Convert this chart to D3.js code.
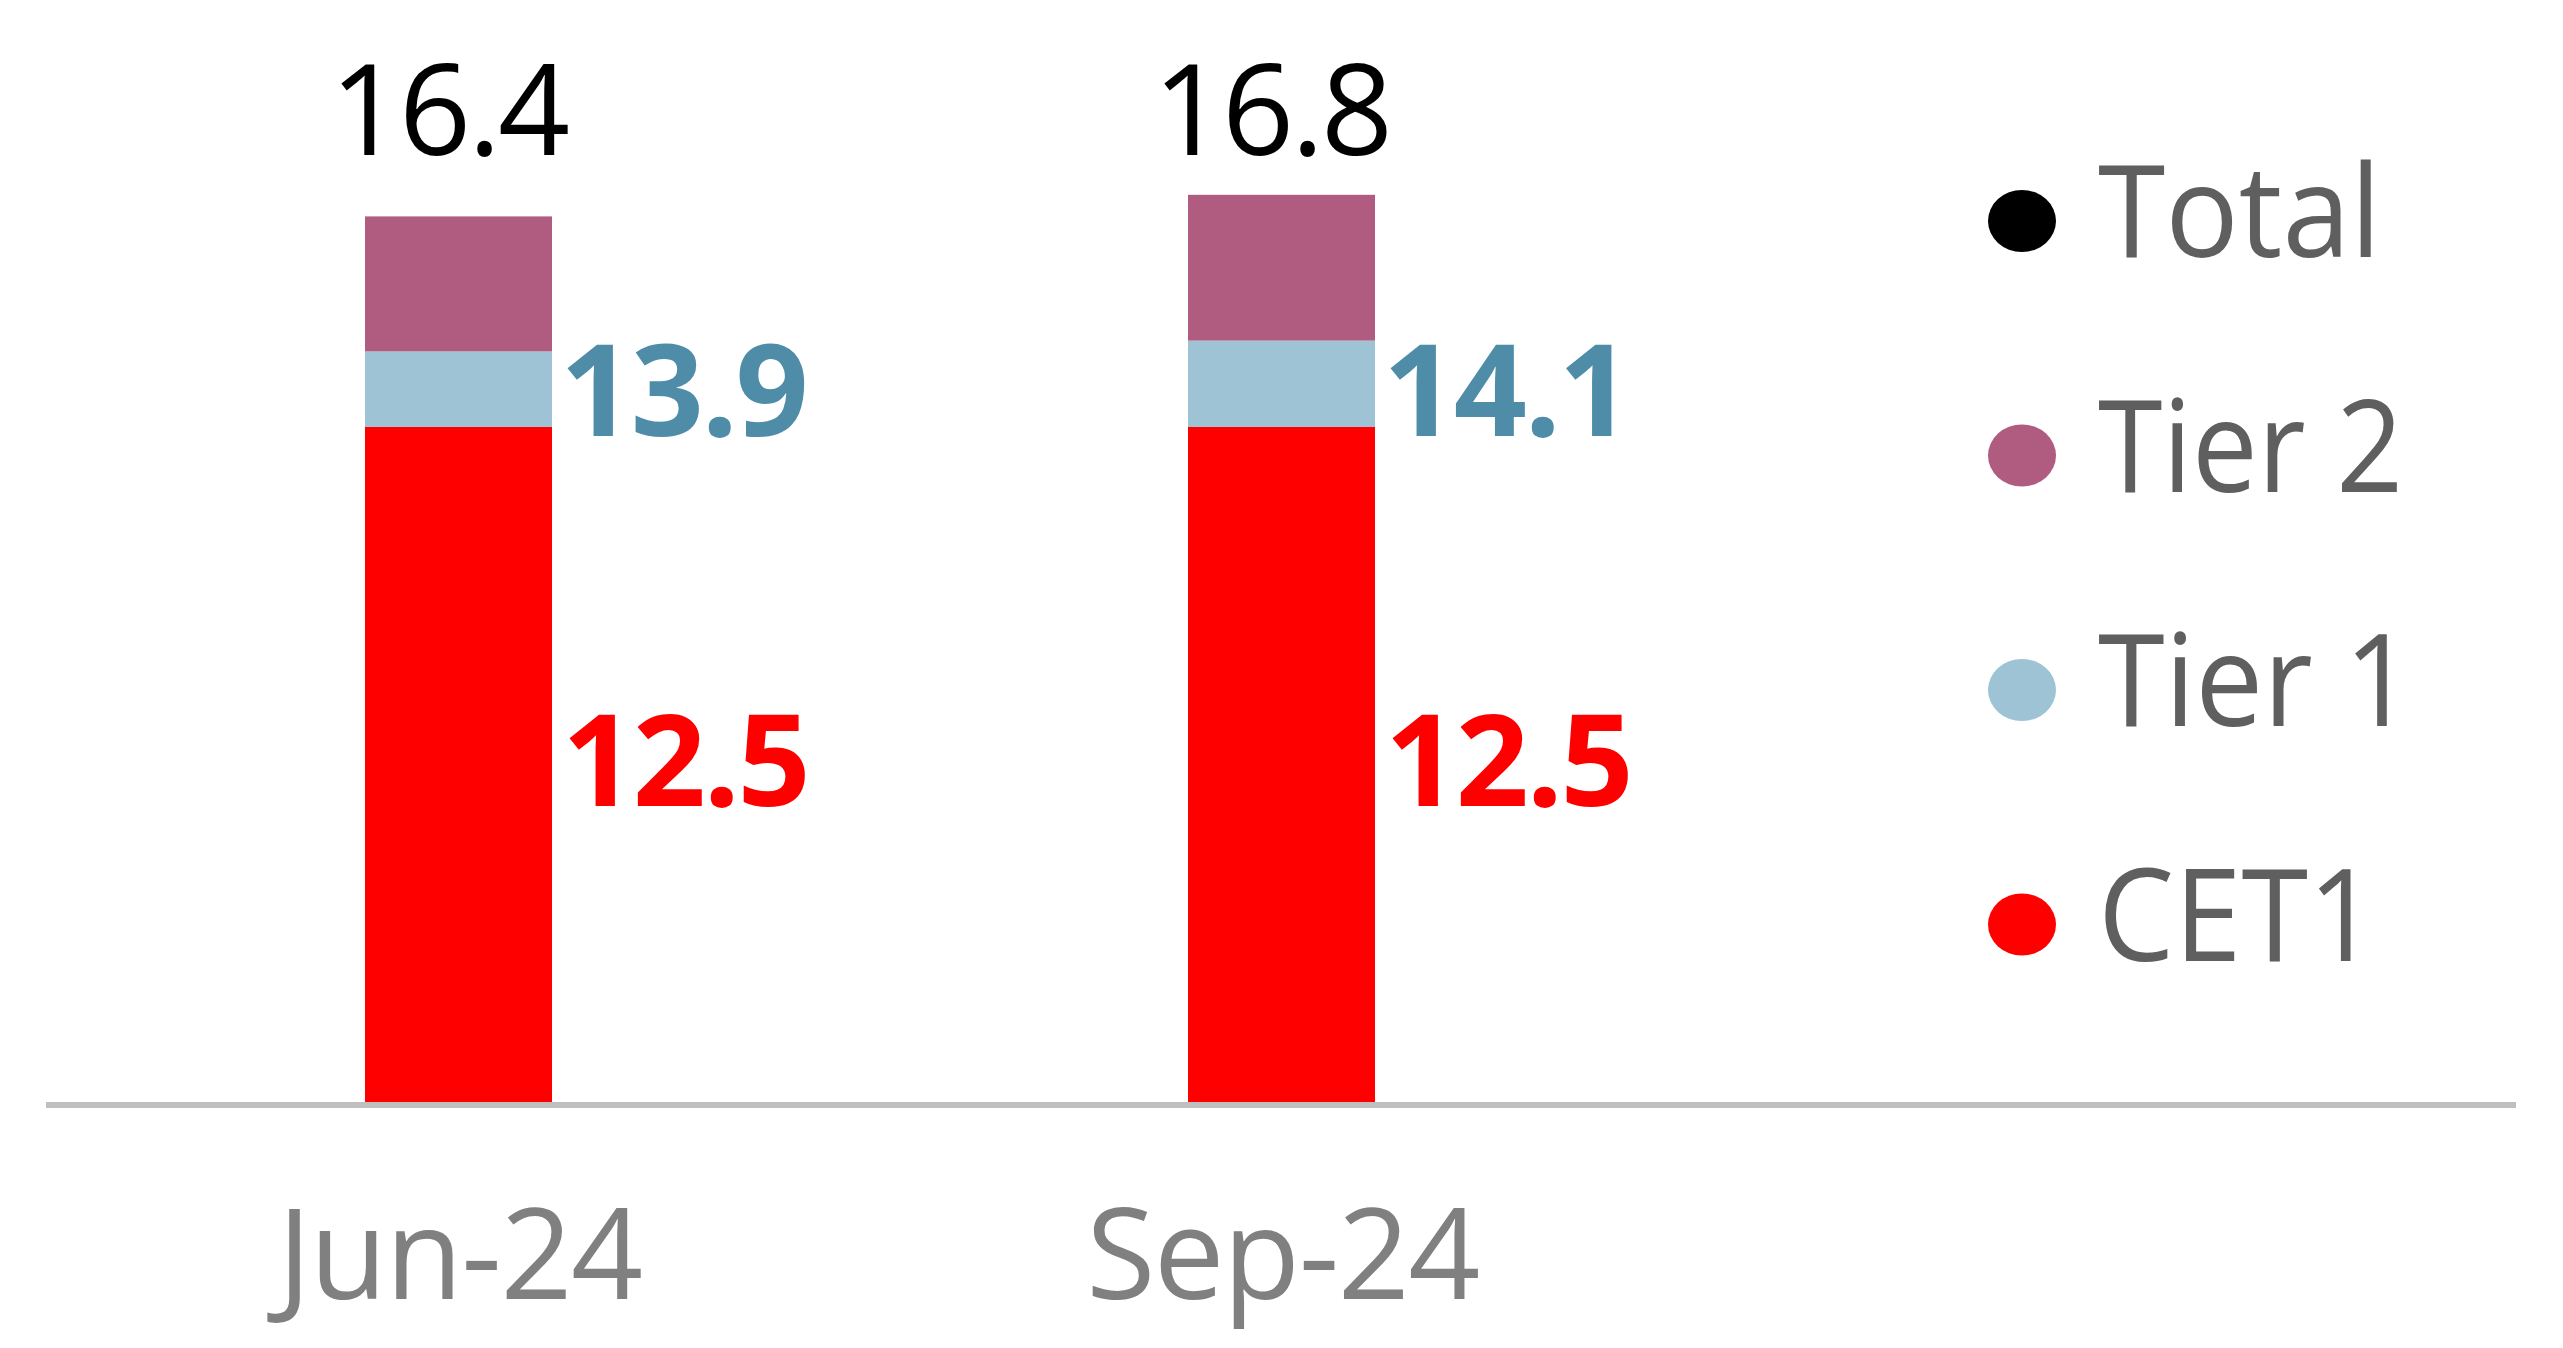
<!DOCTYPE html>
<html><head><meta charset="utf-8">
<script src="https://cdn.jsdelivr.net/npm/d3@7"></script>
<style>html,body{margin:0;padding:0;background:#fff;overflow:hidden}</style>
</head><body>
<script>
const categories = ["Jun-24", "Sep-24"];
const cet1 = [12.5, 12.5];
const tier1 = [13.9, 14.1];
const total = [16.4, 16.8];
const legendLabels = ["Total", "Tier 2", "Tier 1", "CET1"];
const legendColors = ["#000000", "#b05b80", "#9dc3d4", "#ff0000"];

const W = 2563, H = 1348;
const FONT = "'Open Sans', 'Noto Sans', sans-serif";
const svg = d3.select("body").append("svg").attr("width", W).attr("height", H);

const y = d3.scaleLinear().domain([0, 20]).range([1102, 22]);
const x = d3.scalePoint().domain(categories).range([458.5, 1281.5]);
const barW = 187;

const data = categories.map((c, i) => ({cat: c, segs: [
  {key: "CET1", y0: 0, y1: cet1[i], color: "#ff0000"},
  {key: "Tier 1", y0: cet1[i], y1: tier1[i], color: "#9dc3d4"},
  {key: "Tier 2", y0: tier1[i], y1: total[i], color: "#b05b80"}
], i}));

const g = svg.append("g");
data.forEach(d => {
  g.selectAll(null).data(d.segs).enter().append("rect")
    .attr("x", x(d.cat) - barW/2)
    .attr("width", barW)
    .attr("y", s => y(s.y1))
    .attr("height", s => y(s.y0) - y(s.y1))
    .attr("fill", s => s.color);
});

// axis baseline
svg.append("line").attr("x1", 46).attr("x2", 2516)
  .attr("y1", y(0) + 3).attr("y2", y(0) + 3)
  .attr("stroke", "#bfbfbf").attr("stroke-width", 6);

// category labels
svg.selectAll(".cat").data(categories).enter().append("text")
  .attr("x", d => x(d) + 1).attr("y", 1299)
  .attr("text-anchor", "middle")
  .attr("font-family", FONT).attr("font-size", 126)
  .attr("letter-spacing", -1.5)
  .attr("fill", "#808080").text(d => d);

// total labels
svg.selectAll(".tot").data(categories).enter().append("text")
  .attr("x", d => x(d) - 10).attr("y", 155)
  .attr("text-anchor", "middle")
  .attr("font-family", FONT).attr("font-size", 126)
  .attr("letter-spacing", -3)
  .attr("fill", "#000").text((d, i) => total[i].toFixed(1));

// tier1 labels
svg.selectAll(".t1").data(categories).enter().append("text")
  .attr("x", d => x(d) + barW/2 + 8).attr("y", 436)
  .attr("font-family", FONT).attr("font-size", 128).attr("font-weight", 700)
  .attr("letter-spacing", -2.5)
  .attr("fill", "#4e8ca8").text((d, i) => tier1[i].toFixed(1));

// cet1 labels
svg.selectAll(".c1").data(categories).enter().append("text")
  .attr("x", d => x(d) + barW/2 + 10).attr("y", 806)
  .attr("font-family", FONT).attr("font-size", 128).attr("font-weight", 700)
  .attr("letter-spacing", -2.5)
  .attr("fill", "#ff0000").text((d, i) => cet1[i].toFixed(1));

// legend
const legendSqueeze = [0.955, 0.915, 0.946, 0.945];
const leg = svg.selectAll(".leg").data(legendLabels).enter().append("g")
  .attr("transform", (d, i) => `translate(2022, ${221 + i * 234.5})`);
leg.append("ellipse").attr("rx", 34).attr("ry", 31)
  .attr("fill", (d, i) => legendColors[i]);
leg.append("text").attr("x", 76).attr("y", 36)
  .attr("font-family", FONT).attr("font-size", 128)
  .attr("fill", "#5f5f5f").text(d => d)
  .each(function(d, i) {
    const len = this.getComputedTextLength();
    d3.select(this).attr("textLength", len * legendSqueeze[i])
      .attr("lengthAdjust", "spacingAndGlyphs");
  });
</script>
</body></html>
